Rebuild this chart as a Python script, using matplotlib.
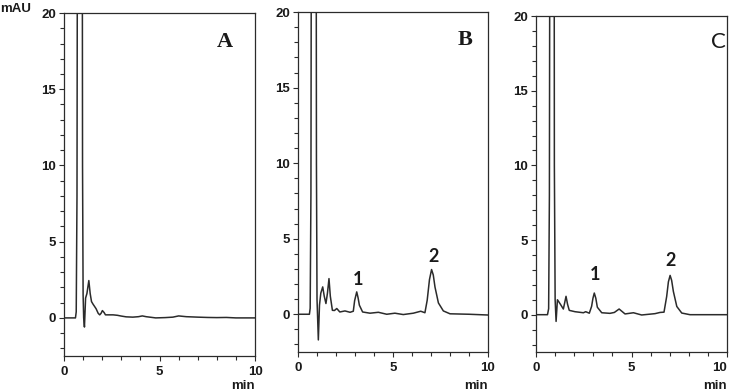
import matplotlib
matplotlib.use("Agg")
import matplotlib.pyplot as plt
import matplotlib.transforms as mtransforms
from matplotlib.ticker import MultipleLocator

# chromatogram A (blank)
time_a = [0, 0.3, 0.6, 0.64, 0.68, 0.74, 0.84, 0.93, 0.97, 1.0, 1.03, 1.07,
          1.13, 1.2, 1.3, 1.37, 1.44, 1.52, 1.58, 1.68, 1.79, 1.87, 1.94,
          2.01, 2.1, 2.17, 2.35, 2.57, 2.8, 3.0, 3.25, 3.6, 3.9, 4.1, 4.3,
          4.8, 5.3, 5.7, 6.0, 6.4, 7.0, 7.5, 8.0, 8.5, 9.0, 9.5, 10]
signal_a = [0, 0, 0, 0.4, 8, 60, 150, 60, 10, 1.5, 0, -0.6,
            1.3, 1.6, 2.45, 1.6, 1.07, 0.9, 0.79, 0.6, 0.3, 0.2, 0.3,
            0.48, 0.35, 0.2, 0.2, 0.2, 0.17, 0.12, 0.07, 0.05, 0.08, 0.13, 0.08,
            0.0, 0.02, 0.05, 0.13, 0.08, 0.05, 0.03, 0.02, 0.03, 0.0, 0.0, 0.0]

# chromatogram B
time_b = [0, 0.3, 0.6, 0.64, 0.68, 0.74, 0.84, 0.93, 0.97, 1.0, 1.07,
          1.13, 1.2, 1.3, 1.38, 1.47, 1.55, 1.63, 1.7, 1.81, 1.92, 2.04,
          2.2, 2.47, 2.74, 2.91, 2.98, 3.09, 3.16, 3.23, 3.4, 3.79, 4.23,
          4.67, 5.1, 5.54, 6.07, 6.46, 6.68, 6.8, 6.92, 7.03, 7.12, 7.21,
          7.39, 7.65, 8.0, 9.0, 10]
signal_b = [0, 0, 0, 0.4, 8, 60, 150, 60, 10, 1.0, -1.7,
            0.6, 1.4, 1.81, 1.2, 0.71, 1.4, 2.36, 1.2, 0.26, 0.25, 0.38,
            0.15, 0.22, 0.13, 0.2, 0.9, 1.48, 1.1, 0.6, 0.15, 0.07, 0.13,
            0.0, 0.07, -0.02, 0.07, 0.2, 0.1, 0.93, 2.3, 2.96, 2.6, 1.8,
            0.75, 0.22, 0.03, 0.0, -0.05]

# chromatogram C
time_c = [0, 0.3, 0.6, 0.66, 0.7, 0.76, 0.85, 0.93, 0.96, 1.0, 1.05,
          1.12, 1.2, 1.29, 1.43, 1.5, 1.57, 1.65, 1.74, 2.04, 2.48, 2.6,
          2.79, 2.91, 2.98, 3.05, 3.13, 3.21, 3.44, 3.87, 4.1, 4.35, 4.66,
          5.1, 5.53, 6.23, 6.49, 6.7, 6.84, 6.93, 7.02, 7.1, 7.19, 7.37,
          7.63, 8.06, 9.0, 10]
signal_c = [0, 0, 0, 0.4, 8, 60, 150, 60, 10, 1.0, -0.45,
            1.0, 0.85, 0.67, 0.38, 0.8, 1.23, 0.7, 0.29, 0.2, 0.13, 0.2,
            0.1, 0.56, 1.1, 1.45, 1.1, 0.5, 0.13, 0.09, 0.15, 0.38, 0.05,
            0.13, -0.02, 0.07, 0.15, 0.17, 1.22, 2.2, 2.63, 2.3, 1.56, 0.55,
            0.11, 0.0, 0.0, 0.0]

peak_labels = ["1", "2"]
peak_pos_b = [(3.17, 2.3), (7.12, 3.85)]
peak_pos_c = [(3.09, 2.7), (7.02, 3.65)]

x_ticks = [0, 5, 10]
x_ticklabels = ["0", "5", "10"]

panels = [
    ("A", time_a, signal_a, None),
    ("B", time_b, signal_b, peak_pos_b),
    ("C", time_c, signal_c, peak_pos_c),
]
axes_rect = [
    [0.0878, 0.0918, 0.262, 0.875],
    [0.4088, 0.102, 0.2606, 0.867],
    [0.7353, 0.102, 0.262, 0.857],
]
letter_pos = [(0.843, 0.915), (0.879, 0.918), (0.953, 0.923)]

ink = "#2b2b2b"
txt = "#1a1a1a"
plt.rcParams["font.family"] = ["Liberation Sans", "DejaVu Sans"]
plt.rcParams["font.weight"] = "bold"

fig = plt.figure(figsize=(7.29, 3.92), dpi=100)
axes = []

for i, (letter, t, sig, peaks) in enumerate(panels):
    ax = fig.add_axes(axes_rect[i])
    axes.append(ax)
    ax.plot(t, sig, color=ink, lw=1.1)
    ax.set_xlim(0, 10)
    ax.set_ylim(-2.5, 20)
    ax.set_xticks(x_ticks, x_ticklabels)
    ax.xaxis.set_minor_locator(MultipleLocator(1))
    ax.yaxis.set_major_locator(MultipleLocator(5))
    ax.yaxis.set_minor_locator(MultipleLocator(1))
    ax.tick_params(which="both", direction="out", color=ink, width=0.8,
                   labelsize=9.5, labelcolor=txt)
    ax.tick_params(which="major", length=3.6)
    ax.tick_params(which="minor", length=3)
    ax.tick_params(axis="x", which="major", pad=3.5)
    ax.tick_params(axis="y", which="major", pad=2)
    for sp in ax.spines.values():
        sp.set_color(ink)
        sp.set_linewidth(0.9)

    if letter == "C":
        ax.text(*letter_pos[i], letter, transform=ax.transAxes,
                ha="center", va="center", fontsize=16, fontweight="normal",
                family=["Lato", "DejaVu Sans"], color=txt)
    else:
        ax.text(*letter_pos[i], letter, transform=ax.transAxes,
                ha="center", va="center", fontsize=16, fontweight="bold",
                family="Liberation Serif", color=txt)

    if peaks is not None:
        for lab, (px, py) in zip(peak_labels, peaks):
            ax.text(px, py, lab, ha="center", va="center", fontsize=13,
                    fontweight="bold", family=["Lato", "DejaVu Sans"],
                    color=txt)

    trans = mtransforms.blended_transform_factory(ax.transAxes, fig.transFigure)
    ax.text(1.0, 0.016, "min", transform=trans, ha="right", va="center",
            fontsize=9.5, color=txt)

fig.text(0.0, 0.977, "mAU", ha="left", va="center", fontsize=9.5, color=txt)

fig.canvas.draw()
# keep the last x label of panel C inside the figure
axes[2].get_xticklabels()[-1].set_horizontalalignment("right")

fig.savefig("out.png", dpi=100)
